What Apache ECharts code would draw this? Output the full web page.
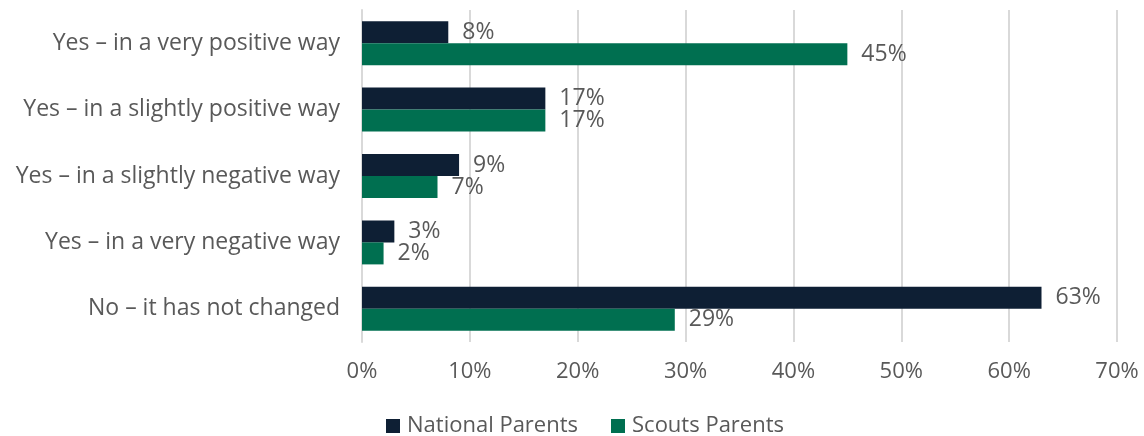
<!DOCTYPE html>
<html>
<head>
<meta charset="utf-8">
<script src="https://cdn.jsdelivr.net/npm/echarts@6/dist/echarts.min.js"></script>
<style>
  html, body { margin: 0; padding: 0; background: #fff; }
  #chart { width: 1144px; height: 436px; }
</style>
</head>
<body>
<div id="chart"></div>
<script>
// Survey responses, listed top to bottom
const categories = [
  'Yes \u2013 in a very positive way',
  'Yes \u2013 in a slightly positive way',
  'Yes \u2013 in a slightly negative way',
  'Yes \u2013 in a very negative way',
  'No \u2013 it has not changed'
];
const seriesNames = ['National Parents', 'Scouts Parents'];
const nationalParents = [8, 17, 9, 3, 63];
const scoutsParents = [45, 17, 7, 2, 29];
const xTicks = { min: 0, max: 70, interval: 10 };

const FONT = '"Open Sans", Lato, sans-serif';
const TEXT = '#595959';
const colors = ['#0e1f34', '#006f50'];

const labelStyle = {
  show: true,
  position: 'right',
  distance: 14,
  formatter: p => p.value + '%',
  color: TEXT,
  fontFamily: FONT,
  fontSize: 23
};

const chart = echarts.init(document.getElementById('chart'));
chart.setOption({
  animation: false,
  textStyle: { fontFamily: FONT },
  grid: { left: 362, right: 27, top: 10, bottom: 94, containLabel: false },
  legend: {
    left: 381,
    top: 410,
    itemWidth: 14,
    itemHeight: 14,
    itemGap: 33,
    icon: 'rect',
    textStyle: { color: TEXT, fontSize: 22, fontFamily: FONT, padding: [0, 0, 0, 2] },
    data: seriesNames
  },
  xAxis: {
    type: 'value',
    min: xTicks.min,
    max: xTicks.max,
    interval: xTicks.interval,
    axisLine: { show: false },
    axisTick: { show: false },
    splitLine: { show: true, lineStyle: { color: '#d9d9d9', width: 2 } },
    axisLabel: {
      formatter: v => v + '%',
      color: TEXT,
      fontSize: 22,
      fontFamily: FONT,
      margin: 19
    }
  },
  yAxis: {
    type: 'category',
    inverse: true,
    data: categories,
    axisLine: { show: true, lineStyle: { color: '#d9d9d9', width: 2 } },
    axisTick: { show: false },
    axisLabel: {
      color: TEXT,
      fontSize: 23,
      fontFamily: FONT,
      margin: 22
    }
  },
  series: [
    {
      name: seriesNames[0],
      type: 'bar',
      data: nationalParents,
      itemStyle: { color: colors[0] },
      barWidth: 22,
      barGap: '0%',
      label: labelStyle
    },
    {
      name: seriesNames[1],
      type: 'bar',
      data: scoutsParents,
      itemStyle: { color: colors[1] },
      barWidth: 22,
      barGap: '0%',
      label: labelStyle
    }
  ]
});
</script>
</body>
</html>
